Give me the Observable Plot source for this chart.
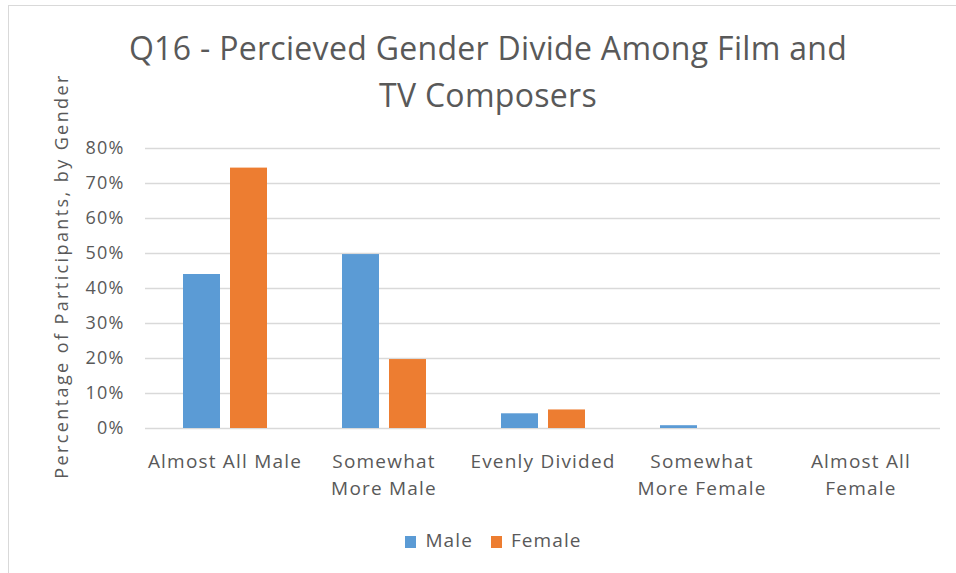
<!DOCTYPE html>
<html>
<head>
<meta charset="utf-8">
<script src="https://cdn.jsdelivr.net/npm/d3@7"></script>
<script src="https://cdn.jsdelivr.net/npm/@observablehq/plot@0.6"></script>
<style>
  html, body { margin: 0; padding: 0; background: #fff; overflow: hidden; }
  #wrap { position: relative; width: 956px; height: 573px; overflow: hidden; font-family: "Open Sans", Lato, sans-serif; color: #595959; }
  #frame { position: absolute; left: 8px; top: 5px; width: 1000px; height: 1000px; border: 1.5px solid #d9d9d9; box-sizing: border-box; }
  #title { position: absolute; left: 0; top: 24px; width: 976px; text-align: center; font-size: 32px; letter-spacing: 0.3px; line-height: 47px; color: #595959; }
  #ylabel { position: absolute; left: 61px; top: 276px; transform: translate(-50%, -50%) rotate(-90deg); white-space: nowrap; font-size: 18px; letter-spacing: 2.4px; color: #595959; }
  #legend { position: absolute; left: 0; top: 527px; width: 987px; text-align: center; font-size: 19px; letter-spacing: 1.1px; color: #595959; white-space: nowrap; }
  #legend span.item { display: inline-block; margin: 0 9px; }
  #legend span.sw { display: inline-block; width: 11px; height: 12px; margin-right: 9px; vertical-align: -1px; }
  #chart { position: absolute; left: 0; top: 0; }
</style>
</head>
<body>
<div id="wrap">
  <div id="frame"></div>
  <div id="chart"></div>
  <div id="title"></div>
  <div id="ylabel"></div>
  <div id="legend"></div>
</div>
<script>
const titleLines = ["Q16 - Percieved Gender Divide Among Film and", "TV Composers"];
const yLabel = "Percentage of Participants, by Gender";
const categories = ["Almost All Male", "Somewhat More Male", "Evenly Divided", "Somewhat More Female", "Almost All Female"];
const categoryLabels = ["Almost All Male", "Somewhat\nMore Male", "Evenly Divided", "Somewhat\nMore Female", "Almost All\nFemale"];
const genders = ["Male", "Female"];
const colors = ["#5B9BD5", "#ED7D31"];
const maleValues = [0.44, 0.497, 0.042, 0.008, 0];
const femaleValues = [0.744, 0.197, 0.053, 0, 0];
const yTicks = [0, 0.1, 0.2, 0.3, 0.4, 0.5, 0.6, 0.7, 0.8];

const data = [];
categories.forEach((c, i) => {
  data.push({category: c, gender: genders[0], value: maleValues[i]});
  data.push({category: c, gender: genders[1], value: femaleValues[i]});
});
const labelOf = new Map(categories.map((c, i) => [c, categoryLabels[i]]));

const chart = Plot.plot({
  width: 956,
  height: 573,
  marginTop: 148,
  marginBottom: 145,
  marginLeft: 144,
  marginRight: 15,
  style: {fontFamily: "'Open Sans', Lato, sans-serif", fontSize: "17px", color: "#595959", background: "transparent", letterSpacing: "1.2px"},
  fx: {domain: categories, padding: 0},
  x: {domain: genders, paddingInner: 0.22, paddingOuter: 0.8, axis: null},
  y: {domain: [0, 0.8], axis: null},
  color: {domain: genders, range: colors},
  marks: [
    Plot.gridY(yTicks, {stroke: "#d9d9d9", strokeOpacity: 1, strokeWidth: 1.4}),
    Plot.barY(data, {fx: "category", x: "gender", y: "value", fill: "gender"}),
    Plot.axisY(yTicks, {
      tickFormat: d3.format(".0%"), tickSize: 0, tickPadding: 21, fontSize: 18, label: null
    }),
    Plot.axisFx({
      anchor: "bottom", tickSize: 0, tickPadding: 20, fontSize: 19, lineHeight: 1.42,
      tickFormat: d => labelOf.get(d), label: null
    })
  ]
});
document.getElementById("chart").appendChild(chart);

document.getElementById("title").innerHTML = titleLines.join("<br>");
document.getElementById("ylabel").textContent = yLabel;
document.getElementById("legend").innerHTML = genders.map((g, i) =>
  `<span class="item"><span class="sw" style="background:${colors[i]}"></span>${g}</span>`).join("");
</script>
</body>
</html>
